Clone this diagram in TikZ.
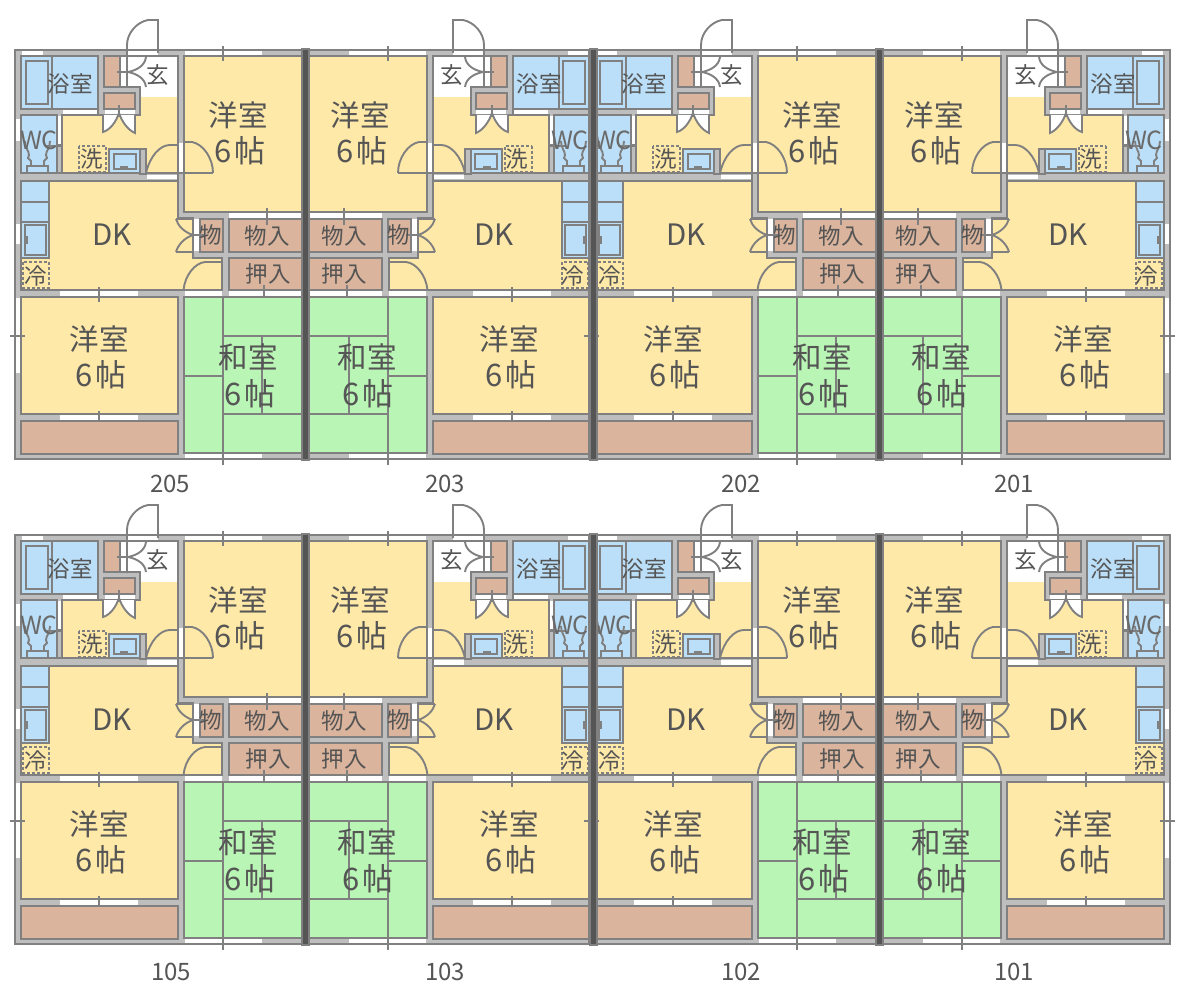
\documentclass[tikz,border=0pt]{standalone}
\usepackage{fontspec}
\setmainfont{Noto Sans CJK JP}
\definecolor{ln}{HTML}{808080}
\definecolor{wl}{HTML}{BEBEBE}
\definecolor{yl}{HTML}{FFE9A8}
\definecolor{bl}{HTML}{BBDFF8}
\definecolor{br}{HTML}{DAB49C}
\definecolor{gr}{HTML}{B9F5B4}
\definecolor{dk}{HTML}{555555}
\definecolor{tx}{HTML}{555555}
\definecolor{txl}{HTML}{6A6A6A}
\tikzset{
  room/.style={draw=ln,line width=2.4pt,line join=miter},
  wallbox/.style={room,fill=wl},
  yroom/.style={room,fill=yl},
  broom/.style={room,fill=bl},
  brroom/.style={room,fill=br},
  groom/.style={room,fill=gr},
  stripw/.style={fill=white,draw=none},
  thin line/.style={draw=ln,line width=1.9pt},
  leaf/.style={draw=ln,line width=1.9pt,fill=white},
  swing/.style={draw=ln,line width=1.9pt},
  dashbox/.style={draw=ln,line width=1.8pt,dash pattern=on 3pt off 2pt},
  big/.style={text=tx,inner sep=0pt,font=\fontsize{29.5}{31}\selectfont},
  mid/.style={text=tx,inner sep=0pt,font=\fontsize{31}{33}\selectfont},
  small/.style={text=tx,inner sep=0pt,font=\fontsize{22.5}{24}\selectfont},
  wclbl/.style={text=txl,inner sep=0pt,font=\fontsize{25}{26}\selectfont},
  num/.style={text=tx,inner sep=0pt,font=\fontsize{24}{26}\selectfont},
  divider/.style={draw=ln,line width=2pt,fill=dk},
}
\newcommand{\unitgeom}{%
  % outer shell
  \draw[wallbox] (15,50) rectangle (306,459);
  % bath
  \draw[broom] (21,56) rectangle (98,109);
  \draw[thin line] (52,56) -- (52,109);
  \draw[thin line] (26,61) rectangle (48,104);
  \fill[stripw] (22,51.2) rectangle (43,54.8);
  \fill[stripw] (63,110.2) rectangle (98,113.8);
  % corridor
  \fill[yl] (104,56) -- (178,56) -- (178,173) -- (62,173) -- (62,115) -- (140,115) -- (140,87) -- (104,87) -- cycle;
  \fill[white] (127,56) rectangle (178,87);
  \fill[white] (140,87) rectangle (178,97);
  \draw[room] (104,56) -- (178,56) -- (178,173) -- (62,173) -- (62,115) -- (140,115) -- (140,87) -- (104,87) -- cycle;
  \draw[brroom] (104,56) rectangle (120,87);
  \draw[brroom] (104,93) rectangle (135,109);
  \fill[stripw] (105,110.2) rectangle (135,113.8);
  \draw[room] (98,56) -- (98,115);
  \fill[stripw] (121.2,57) rectangle (127,86);
  \fill[stripw] (127,51.2) rectangle (158,54.8);
  % entrance door
  \draw[swing] (158,53) -- (158,20) -- (148,20) .. controls (137,22) and (127,33) .. (127,45) -- (127,88);
  % closet double door (side)
  \draw[leaf] (146,57) .. controls (145,65) and (138,70) .. (128,72) .. controls (138,74) and (145,79) .. (146,87);
  \draw[thin line] (117,72) -- (128,72);
  % closet double door (below)
  \draw[leaf] (103,115) -- (103,132) .. controls (110,130) and (116,122) .. (119,113) .. controls (122,122) and (128,130) .. (135,133) -- (135,115);
  \draw[thin line] (119,105) -- (119,117);
  % WC
  \draw[broom] (21,115) rectangle (57,173);
  \fill[stripw] (16.2,119) rectangle (19.8,141);
  \draw[wallbox] (57,144) rectangle (62,173);
  \fill[stripw] (58.2,116) rectangle (60.8,144);
  \draw[thin line] (45,146) -- (62,146);
  \draw[thin line] (27,166) rectangle (48,173);
  \draw[thin line] (25,141) .. controls (25,148) and (29,151) .. (29,155) -- (28,158) -- (31,161) -- (31,166);
  \draw[thin line] (50,141) .. controls (50,148) and (46,151) .. (46,155) -- (47,158) -- (44,161) -- (44,166);
  % basin
  \draw[broom] (109,149) rectangle (140,173);
  \draw[wallbox] (140,149) rectangle (146,174);
  \draw[thin line] (114,154) rectangle (136,169);
  \fill[ln] (120,166) rectangle (128,169);
  \draw[dashbox] (79,146) rectangle (106,172);
  % DK
  \draw[yroom] (49,181) -- (178,181) -- (178,218) -- (193,218) -- (193,258) -- (222,258) -- (222,290) -- (21,290) -- (21,258) -- (49,258) -- cycle;
  \draw[broom] (21,181) rectangle (49,258);
  \draw[thin line] (21,202) -- (49,202);
  \draw[thin line] (21,222) -- (49,222);
  \draw[thin line] (25,225) rectangle (46,255);
  \fill[ln] (25,236) rectangle (28,244);
  \fill[stripw] (16.2,224) rectangle (19.8,244);
  \draw[dashbox] (23,262) rectangle (49,288);
  % corridor -> DK opening
  \fill[stripw] (147,175) rectangle (178,179.5);
  \draw[thin line] (178,173) -- (178,181);
  % upper western room
  \draw[yroom] (184,56) rectangle (306,212);
  \fill[stripw] (185,51.2) rectangle (262,54.8);
  \draw[thin line] (223,46) -- (223,61);
  % door corridor -> western
  \fill[stripw] (179.2,143) rectangle (182.8,172);
  \draw[swing] (146,173) -- (213,173);
  \draw[swing] (146,173) .. controls (150,156) and (160,145) .. (170,145) -- (178,145) -- (178,173);
  \draw[swing] (184,173) -- (184,142) -- (192,142) .. controls (203,144) and (213,158) .. (213,173);
  % closets
  \draw[brroom] (200,219) rectangle (223,252);
  \draw[brroom] (229,219) rectangle (306,252);
  \draw[brroom] (229,258) rectangle (306,290);
  \fill[stripw] (194.2,219) rectangle (199,251);
  \draw[swing] (176,252) -- (193,252);
  \draw[leaf,fill=none] (176,219) .. controls (178,226) and (184,232) .. (193,235) .. controls (184,238) and (178,245) .. (176,252);
  \draw[thin line] (176,219) -- (193,219);
  \draw[thin line] (193,235) -- (205,235);
  \fill[stripw] (229,213.2) rectangle (306,217.8);
  \draw[thin line] (267,208) -- (267,225);
  \fill[stripw] (229,291.2) rectangle (306,295.8);
  \draw[thin line] (264,285) -- (264,302);
  % lower western room
  \draw[yroom] (21,297) rectangle (178,414);
  \fill[stripw] (60,291.2) rectangle (138,295.8);
  \draw[thin line] (99,287) -- (99,302);
  \fill[stripw] (16.2,298) rectangle (19.8,373);
  \draw[thin line] (10,336) -- (25,336);
  \fill[stripw] (60,415.2) rectangle (138,419.8);
  \draw[thin line] (99,411) -- (99,426);
  \draw[brroom] (21,421) rectangle (178,454);
  % tatami
  \draw[groom] (184,297) rectangle (306,453);
  \draw[thin line] (223,297) -- (223,465);
  \draw[thin line] (223,336) -- (306,336);
  \draw[thin line] (184,376) -- (223,376);
  \draw[thin line] (223,414) -- (306,414);
  \draw[thin line] (262,336) -- (262,414);
  \fill[stripw] (185,454.2) rectangle (262,457.8);
  \draw[thin line] (223,453) -- (223,465);
  % DK -> tatami door
  \fill[stripw] (185,291.2) rectangle (222,295.8);
  \draw[swing] (183.5,290) .. controls (185,275) and (195,263) .. (205,262) -- (222,262);
}
\newcommand{\lbl}[4]{\node[#1] at (#2,#3) {#4};}
\newcommand{\sixj}{6\hspace{3pt}帖}
\newcommand{\txtL}{%
  \lbl{small}{70}{84}{浴室}
  \lbl{small}{158}{75}{玄}
  \lbl{big}{238}{115}{洋室}
  \lbl{mid}{240}{151}{\sixj}
  \lbl{wclbl}{39}{140}{WC}
  \lbl{small}{92}{159}{洗}
  \lbl{big}{112}{235}{DK}
  \lbl{small}{211}{235}{物}
  \lbl{small}{267}{236}{物入}
  \lbl{small}{268}{274}{押入}
  \lbl{small}{36}{276}{冷}
  \lbl{big}{99}{339}{洋室}
  \lbl{mid}{101}{375}{\sixj}
  \lbl{big}{248}{357}{和室}
  \lbl{mid}{250}{394}{\sixj}
}
\newcommand{\txtR}{%
  \lbl{big}{360}{115}{洋室}
  \lbl{mid}{362}{151}{\sixj}
  \lbl{small}{452}{75}{玄}
  \lbl{small}{539}{84}{浴室}
  \lbl{wclbl}{570}{140}{WC}
  \lbl{small}{517}{159}{洗}
  \lbl{big}{494}{235}{DK}
  \lbl{small}{399}{235}{物}
  \lbl{small}{344}{236}{物入}
  \lbl{small}{344}{274}{押入}
  \lbl{small}{573}{276}{冷}
  \lbl{big}{509}{339}{洋室}
  \lbl{mid}{511}{375}{\sixj}
  \lbl{big}{367}{357}{和室}
  \lbl{mid}{368}{394}{\sixj}
}
% #1 dx, #2 dy
\newcommand{\pairunits}[2]{%
  \begin{scope}[shift={(#1,#2)}]\unitgeom\end{scope}
  \begin{scope}[shift={(#1+611,#2)},xscale=-1]\unitgeom\end{scope}
  \begin{scope}[shift={(#1,#2)}]\txtL\txtR\end{scope}
}
\newcommand{\dividers}[1]{%
  \foreach \xc in {302.4,589.7,876}{
    \draw[divider] (\xc,49+#1) rectangle (\xc+7,460+#1);
  }
}
\begin{document}
\begin{tikzpicture}[x=1pt,y=-1pt]
  \useasboundingbox (0,0) rectangle (1200,1000);
  \fill[white] (0,0) rectangle (1200,1000);
  \pairunits{0}{0}
  \pairunits{574}{0}
  \pairunits{0}{485}
  \pairunits{574}{485}
  \dividers{0}
  \dividers{485}
  \lbl{num}{170}{484}{205}
  \lbl{num}{445}{484}{203}
  \lbl{num}{741}{484}{202}
  \lbl{num}{1014}{484}{201}
  \lbl{num}{171}{972}{105}
  \lbl{num}{445}{972}{103}
  \lbl{num}{741}{972}{102}
  \lbl{num}{1014}{972}{101}
\end{tikzpicture}
\end{document}
